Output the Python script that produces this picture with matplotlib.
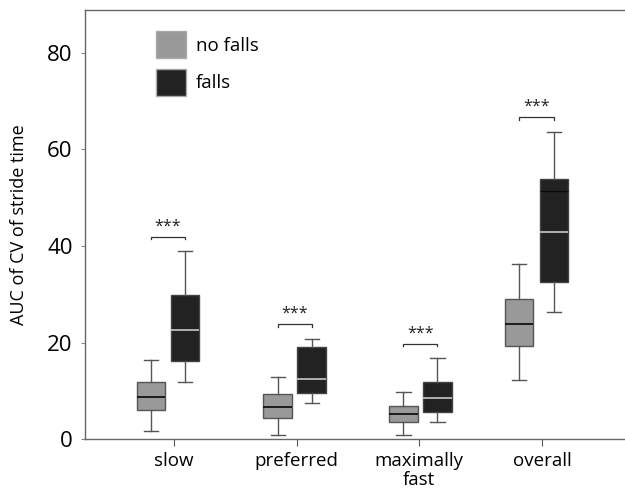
import matplotlib
matplotlib.use("Agg")
import matplotlib.pyplot as plt
from matplotlib.patches import Patch

# Data: AUC of CV of stride time
conditions = ["slow", "preferred", "maximally\nfast", "overall"]

# no falls group
nf_whislo = [1.7, 0.8, 0.8, 12.2]
nf_q1 = [6.0, 4.4, 3.5, 19.3]
nf_med = [8.8, 6.7, 5.2, 23.8]
nf_q3 = [11.8, 9.3, 6.9, 29.0]
nf_whishi = [16.3, 12.9, 9.7, 36.3]

# falls group
f_whislo = [11.8, 7.5, 3.5, 26.4]
f_q1 = [16.2, 9.6, 5.7, 32.5]
f_med = [22.5, 12.4, 8.4, 42.8]
f_q3 = [29.9, 19.1, 11.9, 53.8]
f_whishi = [38.9, 20.8, 16.7, 63.7]

sig_labels = ["***", "***", "***", "***"]

plt.rcParams['font.family'] = ['Open Sans', 'DejaVu Sans']

NF_COLOR = "#999999"
F_COLOR = "#222222"
LINE = "#555555"

fig = plt.figure(figsize=(6.25, 4.94), dpi=100)
ax = fig.add_axes([0.136, 0.1113, 0.864, 0.8684])

x = [1, 2, 3, 4]
# box offsets around each category tick (as drawn in the original)
nf_shift = [-0.187, -0.155, -0.13, -0.187]
f_shift = [0.09, 0.122, 0.147, 0.098]
box_w = 0.232


def make_stats(lo, q1, med, q3, hi):
    return [dict(whislo=a, q1=b, med=c, q3=d, whishi=e, fliers=[])
            for a, b, c, d, e in zip(lo, q1, med, q3, hi)]


nf_stats = make_stats(nf_whislo, nf_q1, nf_med, nf_q3, nf_whishi)
f_stats = make_stats(f_whislo, f_q1, f_med, f_q3, f_whishi)

common = dict(widths=box_w, capwidths=box_w * 0.5, patch_artist=True,
              showfliers=False, manage_ticks=False,
              whiskerprops=dict(color=LINE, linewidth=1.0),
              capprops=dict(color=LINE, linewidth=1.0))

ax.bxp(nf_stats, positions=[p + s for p, s in zip(x, nf_shift)],
       boxprops=dict(facecolor=NF_COLOR, edgecolor="#555555", linewidth=1.0),
       medianprops=dict(color="#111111", linewidth=1.3), **common)
ax.bxp(f_stats, positions=[p + s for p, s in zip(x, f_shift)],
       boxprops=dict(facecolor=F_COLOR, edgecolor="#444444", linewidth=1.0),
       medianprops=dict(color="#bbbbbb", linewidth=1.3), **common)

# second upper edge seen inside the overall falls box
ax.hlines(51.3, x[3] + f_shift[3] - box_w / 2, x[3] + f_shift[3] + box_w / 2,
          color="#0a0a0a", linewidth=1.0, zorder=5)

# significance brackets
for i in range(len(x)):
    x0 = x[i] + nf_shift[i]
    x1 = x[i] + f_shift[i]
    yb = max(nf_whishi[i], f_whishi[i]) + 3.0
    ax.plot([x0, x0, x1, x1], [yb - 0.5, yb, yb, yb - 0.5], color="#333333", linewidth=0.9)
    ax.text((x0 + x1) / 2, yb + 0.5, sig_labels[i], ha="center", va="bottom",
            fontsize=11.5, color="#222222")

ax.set_xlim(0.275, 4.676)
ax.set_ylim(0, 88.9)
ax.set_yticks([0, 20, 40, 60, 80])
ax.set_xticks(x)
ax.set_xticklabels(conditions, fontsize=13.5, linespacing=1.1)
ax.tick_params(axis="y", labelsize=16, length=3, width=0.8, color="#888888", pad=6)
ax.tick_params(axis="x", length=5, width=0.8, color="#555555", pad=4)
ax.set_ylabel("AUC of CV of stride time", fontsize=13, labelpad=14)

for side in ["left", "top", "bottom"]:
    ax.spines[side].set_color("#666666")
    ax.spines[side].set_linewidth(1.0)
ax.spines["right"].set_visible(False)

handles = [Patch(facecolor=NF_COLOR, edgecolor="#aaaaaa", label="no falls"),
           Patch(facecolor=F_COLOR, edgecolor="#aaaaaa", label="falls")]
ax.legend(handles=handles, loc="upper left", bbox_to_anchor=(0.1, 0.99),
          frameon=False, fontsize=13.5, handlelength=1.6, handleheight=1.85,
          handletextpad=0.55, labelspacing=0.55)

fig.savefig("out.png", dpi=100)
